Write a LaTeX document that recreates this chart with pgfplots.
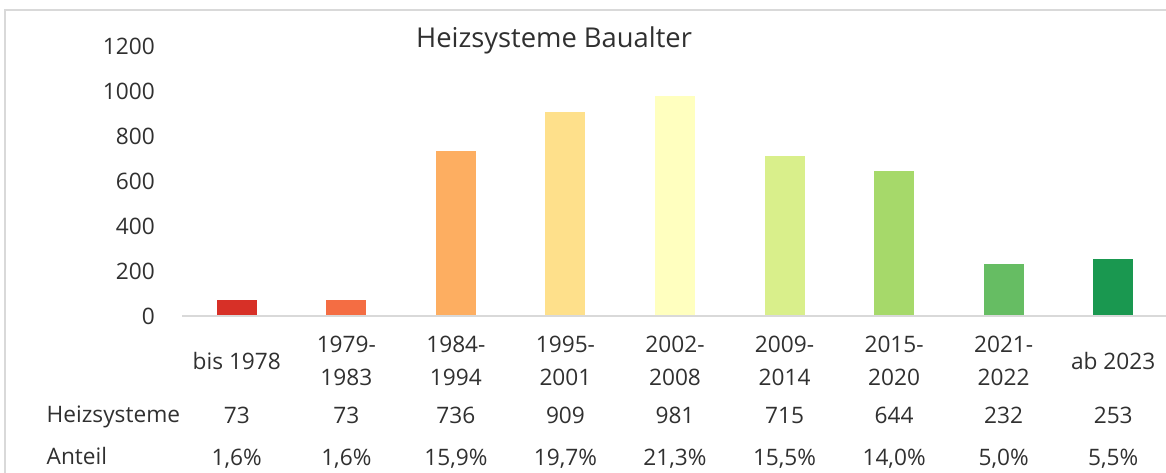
\documentclass[border=0pt]{standalone}
\usepackage{pgfplots}
\pgfplotsset{compat=1.18}
\usepackage{pgfplotstable}
\usepackage{fontspec}
\setmainfont{Open Sans}

\definecolor{ink}{HTML}{303030}
\definecolor{frameGray}{HTML}{D9D9D9}
\definecolor{b1}{HTML}{D73027}
\definecolor{b2}{HTML}{F46D43}
\definecolor{b3}{HTML}{FDAE61}
\definecolor{b4}{HTML}{FEE08B}
\definecolor{b5}{HTML}{FFFFBF}
\definecolor{b6}{HTML}{D9EF8B}
\definecolor{b7}{HTML}{A6D96A}
\definecolor{b8}{HTML}{66BD63}
\definecolor{b9}{HTML}{1A9850}

% table rows under the chart
\pgfplotstableread{
x n share
0 73 1,6
1 73 1,6
2 736 15,9
3 909 19,7
4 981 21,3
5 715 15,5
6 644 14,0
7 232 5,0
8 253 5,5
}\rows

\newcommand{\lbl}{\fontsize{17}{24.75}\selectfont}

\begin{document}
\begin{tikzpicture}
\useasboundingbox (0,0) rectangle (874.5pt,354.75pt);
\draw[frameGray, line width=1.5pt] (3.75pt,-5pt) -- (3.75pt,347.25pt) -- (880pt,347.25pt);

\node[anchor=base, text=ink, font=\fontsize{20.5}{24}\selectfont] at (415.5pt,318.75pt) {Heizsysteme Baualter};
\node[anchor=base west, text=ink, font=\lbl] at (31.5pt,37.5pt) {Heizsysteme};
\node[anchor=base west, text=ink, font=\lbl] at (31.5pt,6pt) {Anteil};

\begin{axis}[
  at={(136.5pt,117.75pt)}, anchor=south west,
  scale only axis, width=739.5pt, height=202pt,
  xmin=-0.5, xmax=8.5, ymin=0, ymax=1200,
  clip=false,
  axis line style={draw=none},
  tick style={draw=none},
  ytick={0,200,...,1200},
  /pgf/number format/assume math mode=true,
  /pgf/number format/1000 sep={},
  yticklabel style={anchor=east, inner sep=0pt, xshift=-20.25pt, font=\lbl, text=ink},
  xtick={0,...,8},
  xticklabels={{bis 1978},{1979-\\1983},{1984-\\1994},{1995-\\2001},{2002-\\2008},{2009-\\2014},{2015-\\2020},{2021-\\2022},{ab 2023}},
  xticklabel style={anchor=center, align=center, yshift=-29.25pt, inner sep=0pt, font=\lbl, text=ink},
  ybar, bar width=30pt, bar shift=0pt,
]
\addplot[fill=b1, draw=none] coordinates {(0,73)};
\addplot[fill=b2, draw=none] coordinates {(1,73)};
\addplot[fill=b3, draw=none] coordinates {(2,736)};
\addplot[fill=b4, draw=none] coordinates {(3,909)};
\addplot[fill=b5, draw=none] coordinates {(4,981)};
\addplot[fill=b6, draw=none] coordinates {(5,715)};
\addplot[fill=b7, draw=none] coordinates {(6,644)};
\addplot[fill=b8, draw=none] coordinates {(7,232)};
\addplot[fill=b9, draw=none] coordinates {(8,253)};

\draw[frameGray, line width=1.5pt] (rel axis cs:0,0) -- (rel axis cs:1,0);

\addplot[only marks, mark=none, nodes near coords, point meta=explicit symbolic,
  every node near coord/.append style={anchor=base, inner sep=0pt, font=\lbl, text=ink}]
  table[x=x, y expr=-476.8, meta=n] {\rows};
\addplot[only marks, mark=none, nodes near coords={\pgfplotspointmeta\%}, point meta=explicit symbolic,
  every node near coord/.append style={anchor=base, inner sep=0pt, font=\lbl, text=ink}]
  table[x=x, y expr=-664, meta=share] {\rows};
\end{axis}
\end{tikzpicture}
\end{document}
